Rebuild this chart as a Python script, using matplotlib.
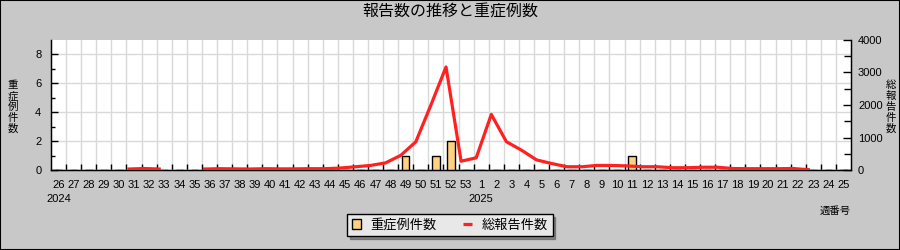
import matplotlib
matplotlib.use('Agg')
import matplotlib.pyplot as plt
import matplotlib.transforms as mtransforms
from matplotlib.patches import Patch, Rectangle
from matplotlib.lines import Line2D
import numpy as np

plt.rcParams['font.family'] = ['Liberation Sans', 'Noto Sans CJK JP', 'DejaVu Sans']

# ---------------- data ----------------
week_labels = ['26', '27', '28', '29', '30', '31', '32', '33', '34', '35',
               '36', '37', '38', '39', '40', '41', '42', '43', '44', '45',
               '46', '47', '48', '49', '50', '51', '52', '53',
               '1', '2', '3', '4', '5', '6', '7', '8', '9', '10',
               '11', '12', '13', '14', '15', '16', '17', '18', '19', '20',
               '21', '22', '23', '24', '25']
year_labels = ['2024', '2025']
year_start_index = [0, 28]

severe_cases = [0, 0, 0, 0, 0, 0, 0, 0, 0, 0,
                0, 0, 0, 0, 0, 0, 0, 0, 0, 0,
                0, 0, 0, 1, 0, 1, 2, 0,
                0, 0, 0, 0, 0, 0, 0, 0, 0, 0,
                1, 0, 0, 0, 0, 0, 0, 0, 0, 0,
                0, 0, 0, 0, 0]

nan = np.nan
total_reports = [nan, nan, nan, nan, nan, 30, 45, 30, nan, nan,
                 30, 40, 35, 30, 40, 35, 35, 40, 40, 60,
                 100, 140, 220, 450, 870, 2000, 3170, 270,
                 375, 1710, 870, 610, 310, 200, 100, 100, 140, 140,
                 125, 100, 100, 70, 70, 85, 85, 45, 40, 40,
                 40, 45, 10, nan, nan]

title = '報告数の推移と重症例数'
left_label = '重症例件数'
right_label = '総報告件数'
x_label = '週番号'
legend_labels = ['重症例件数', '総報告件数']

# ---------------- figure ----------------
W, H = 900, 250
CJK = ['Noto Sans CJK JP', 'DejaVu Sans']
fig = plt.figure(figsize=(9, 2.5), dpi=100, facecolor='#c8c8c8')
fig.patches.append(Rectangle((0, 0), 1, 1, transform=fig.transFigure,
                             fill=False, edgecolor='black', linewidth=1.5, zorder=10))

ax = fig.add_axes([51 / W, 80 / H, 800 / W, 130 / H])
ax.set_facecolor('white')
n = len(week_labels)
x = np.arange(n)

ax.bar(x, severe_cases, width=0.5, color='#ffd280', edgecolor='black',
       linewidth=1.0, zorder=3)
ax.set_xlim(-0.5, n - 0.5)
ax.set_ylim(0, 9)
ax.set_yticks([0, 2, 4, 6, 8])
ax.set_yticks([1, 3, 5, 7], minor=True)
ax.set_xticks(np.arange(n - 1) + 0.5)
ax.set_xticks(x, minor=True)
ax.set_xticklabels(week_labels, minor=True)
ax.tick_params(axis='x', which='major', direction='in', length=4, width=1,
               labelbottom=False, color='black')
ax.tick_params(axis='x', which='minor', length=0, pad=7, labelsize=8)
ax.tick_params(axis='y', which='major', direction='in', length=5, width=1,
               pad=7, labelsize=8)
ax.tick_params(axis='y', which='minor', direction='in', length=3, width=1)
ax.grid(True, which='major', color='#d9d9d9', linewidth=1.0)
ax.set_axisbelow(True)
for s in ['left', 'bottom', 'right']:
    ax.spines[s].set_color('black')
    ax.spines[s].set_linewidth(1.0)
ax.spines['top'].set_visible(False)

ax2 = ax.twinx()
ax2.plot(x - 0.33, total_reports, color='#ff2020', linewidth=2.3, zorder=4)
ax2.set_ylim(0, 4000)
ax2.set_yticks([0, 1000, 2000, 3000, 4000])
ax2.set_yticks([500, 1500, 2500, 3500], minor=True)
ax2.tick_params(axis='y', which='major', direction='in', length=6, width=1,
                pad=5, labelsize=8)
ax2.tick_params(axis='y', which='minor', direction='in', length=5, width=1)
ax2.spines['top'].set_visible(False)
ax2.spines['right'].set_color('black')

# year labels under the first week of each year
trans = mtransforms.blended_transform_factory(ax.transData, ax.transAxes)
for yl, idx in zip(year_labels, year_start_index):
    ax.text(idx, -0.225, yl, transform=trans, ha='center', va='center', fontsize=8)

fig.text(0.5, 1 - 12.5 / H, title, ha='center', va='center', fontsize=11.5,
         family=CJK)


def stacked(label, xpx, ycen_px, step_px=10.8):
    k = len(label)
    for i, ch in enumerate(label):
        ypx = ycen_px + (i - (k - 1) / 2) * step_px
        fig.text(xpx / W, 1 - ypx / H, ch, ha='center', va='center',
                 fontsize=7.5, family=CJK)


stacked(left_label, 13, 107)
stacked(right_label, 891, 107)
fig.text(835 / W, 1 - 211 / H, x_label, ha='center', va='center', fontsize=7.5,
         family=CJK)

handles = [Patch(facecolor='#ffd280', edgecolor='black', linewidth=1.0),
           Line2D([], [], color='#ff2020', linewidth=2.3, solid_capstyle='butt')]
leg = fig.legend(handles, legend_labels, loc='center', bbox_to_anchor=(0.5, 1 - 225 / H),
                 ncol=2, frameon=True, fancybox=False, shadow=True,
                 edgecolor='black', facecolor='#e8e8e8', framealpha=1,
                 prop={'family': CJK, 'size': 9.5}, handlelength=0.7, handleheight=0.7,
                 columnspacing=2.0, handletextpad=0.7, borderpad=0.35, borderaxespad=0)
leg.get_frame().set_linewidth(1.0)

fig.savefig('out.png', dpi=100, facecolor=fig.get_facecolor())
